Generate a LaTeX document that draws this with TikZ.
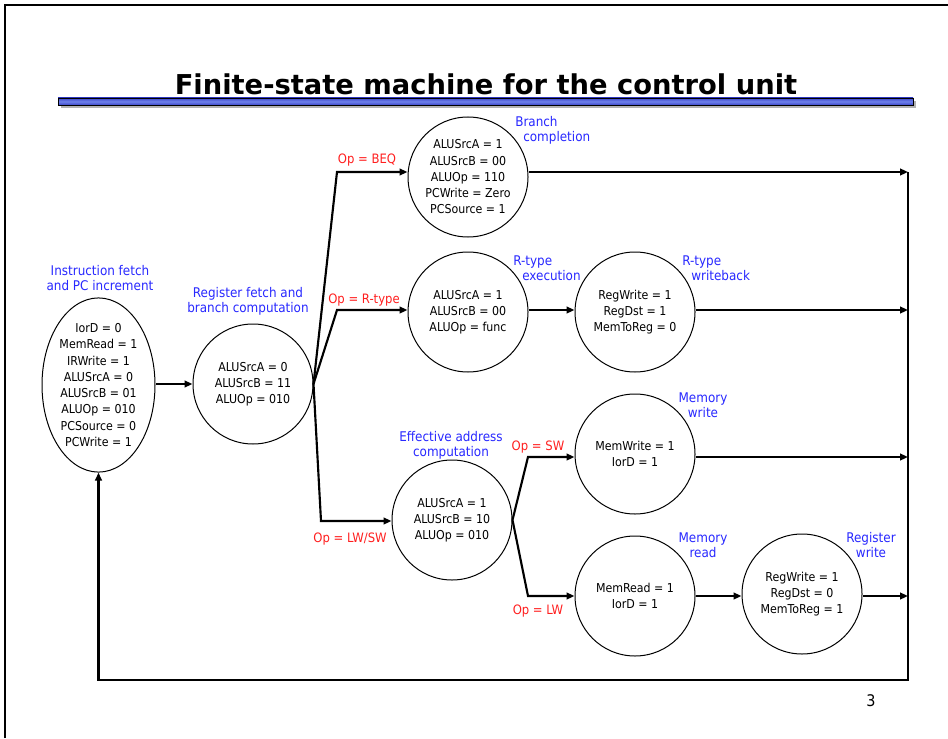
\documentclass[tikz,border=0pt]{standalone}
\usepackage{fontspec}
\setmainfont{DejaVu Sans Condensed}
\newfontfamily\titlefont{DejaVu Sans}
\usetikzlibrary{arrows.meta,shapes.geometric,calc}
\definecolor{lblue}{RGB}{40,40,255}
\definecolor{lred}{RGB}{255,30,30}
\definecolor{barblue}{RGB}{60,70,200}
\definecolor{barlight}{RGB}{110,130,235}
\begin{document}
\begin{tikzpicture}[x=0.75pt,y=-0.75pt,
  state/.style={circle,draw,line width=0.75pt,minimum size=90pt,inner sep=0pt,align=center,font=\fontsize{9.2}{12.2}\selectfont},
  conn/.style={line width=1.6pt},
  arr/.style={conn,-{Triangle[length=6pt,width=5pt]}},
  lab/.style={text=lblue,font=\fontsize{10}{11.2}\selectfont,inner sep=0pt},
  cond/.style={text=lred,font=\fontsize{9.7}{11}\selectfont,inner sep=0pt}
]
\useasboundingbox (0,0) rectangle (948,738);
% page border
\draw[line width=1.5pt] (5,738) -- (5,5) -- (948,5);
% title
\node[font=\titlefont\bfseries\fontsize{20.5}{24}\selectfont,inner sep=0pt] (title) at (486,84) {Finite-state machine for the control unit};
\fill[gray!60] (61,101) rectangle (916,108);
\shade[top color=barblue,bottom color=barblue,middle color=barlight,draw=black,line width=0.6pt] (58,98) rectangle (913,105);
% states
\node[ellipse,draw,line width=0.75pt,minimum width=84.75pt,minimum height=123.75pt,inner sep=0pt,align=center,font=\fontsize{9.2}{12.2}\selectfont] (fetch) at (98.5,385)
 {IorD = 0\\MemRead = 1\\IRWrite = 1\\ALUSrcA = 0\\ALUSrcB = 01\\ALUOp = 010\\PCSource = 0\\PCWrite = 1};
\node[state] (rf) at (253,384) {ALUSrcA = 0\\ALUSrcB = 11\\ALUOp = 010};
\node[state] (br) at (468,177) {ALUSrcA = 1\\ALUSrcB = 00\\ALUOp = 110\\PCWrite = Zero\\PCSource = 1};
\node[state] (rx) at (468,312) {ALUSrcA = 1\\ALUSrcB = 00\\ALUOp = func};
\node[state] (rw) at (635,312) {RegWrite = 1\\RegDst = 1\\MemToReg = 0};
\node[state] (ea) at (452,520) {ALUSrcA = 1\\ALUSrcB = 10\\ALUOp = 010};
\node[state] (mw) at (635,454) {MemWrite = 1\\IorD = 1};
\node[state] (mr) at (635,596) {MemRead = 1\\IorD = 1};
\node[state] (rg) at (802,594) {RegWrite = 1\\RegDst = 0\\MemToReg = 1};
% state labels
\node[lab,align=center] (lfetch) at (100,278) {Instruction fetch\\and PC increment};
\node[lab,align=center] (lrf) at (248,301) {Register fetch and\\branch computation};
\node[lab,align=left,anchor=west] (lbr) at (515,130) {Branch\\\hspace*{6pt}completion};
\node[lab,align=left,anchor=west] (lrx) at (513,268) {R-type\\\hspace*{6.75pt}execution};
\node[lab,align=left,anchor=west] (lrw) at (682,268) {R-type\\\hspace*{6.75pt}writeback};
\node[lab,align=center] (lea) at (451,445) {Effective address\\computation};
\node[lab,align=center] (lmw) at (703,405) {Memory\\write};
\node[lab,align=center] (lmr) at (703,545) {Memory\\read};
\node[lab,align=center] (lrg) at (871,545) {Register\\write};
% condition labels
\node[cond] (cbeq) at (367,160) {Op = BEQ};
\node[cond] (crt) at (364,300) {Op = R-type};
\node[cond] (clw) at (350,539) {Op = LW/SW};
\node[cond] (csw) at (538,447) {Op = SW};
\node[cond] (clwb) at (538,611) {Op = LW};
% coordinates
\coordinate (k1) at (337,172);
\coordinate (k2) at (337,310);
\coordinate (k3) at (321,521);
\coordinate (k4) at (528,457);
\coordinate (k5) at (528,596);
\coordinate (b1) at (908,172);
\coordinate (b2) at (908,310);
\coordinate (b3) at (908,457);
\coordinate (b4) at (908,596);
\coordinate (bb) at (908,680);
\coordinate (bl) at (98.5,680);
% connectors
\draw[arr] (fetch.east |- rf.west) -- (rf.west);
\draw[arr] (rf.east) -- (k1) -- (k1 -| br.west);
\draw[arr] (rf.east) -- (k2) -- (k2 -| rx.west);
\draw[arr] (rf.east) -- (k3) -- (k3 -| ea.west);
\draw[arr] (ea.east) -- (k4) -- (k4 -| mw.west);
\draw[arr] (ea.east) -- (k5) -- (k5 -| mr.west);
\draw[arr] (rx.east |- k2) -- (k2 -| rw.west);
\draw[arr] (mr.east |- k5) -- (k5 -| rg.west);
\draw[arr] (br.east |- b1) -- (b1);
\draw[arr] (rw.east |- b2) -- (b2);
\draw[arr] (mw.east |- b3) -- (b3);
\draw[arr] (rg.east |- b4) -- (b4);
\draw[arr] (b1) -- (bb) -- (bl) -- (fetch.south);
% page number
\node[font=\fontsize{12}{14}\selectfont,inner sep=0pt] (pg) at (871,701) {3};
\end{tikzpicture}
\end{document}
